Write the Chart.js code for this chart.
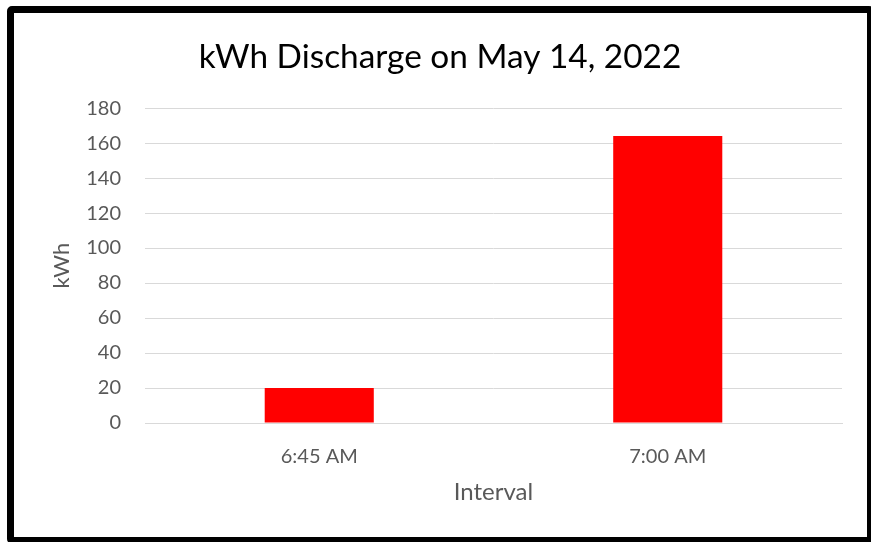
<!DOCTYPE html>
<html>
<head>
<meta charset="utf-8">
<script src="https://cdn.jsdelivr.net/npm/chart.js@4"></script>
<style>
  html, body { margin: 0; padding: 0; background: #fff; overflow: hidden; }
  #wrap { position: relative; width: 871px; height: 542px; }
  canvas { position: absolute; left: 0; top: 0; }
  #frame {
    position: absolute; left: 7px; top: 6px; width: 867px; height: 538px;
    box-sizing: border-box; border: 7px solid #000; border-radius: 5px;
    pointer-events: none;
  }
</style>
</head>
<body>
<div id="wrap">
  <canvas id="c" width="871" height="542"></canvas>
  <div id="frame"></div>
</div>
<script>
const categories = ["6:45 AM", "7:00 AM"];
const kwhValues = [20, 164];
const yTicks = [0, 20, 40, 60, 80, 100, 120, 140, 160, 180];

const FONT = "Lato, 'Open Sans', sans-serif";
const GRAY = "#595959";

new Chart(document.getElementById("c"), {
  type: "bar",
  data: {
    labels: categories,
    datasets: [{
      label: "kWh",
      data: kwhValues,
      backgroundColor: "#ff0000",
      borderWidth: 0,
      barPercentage: 0.313,
      categoryPercentage: 1.0
    }]
  },
  options: {
    responsive: false,
    devicePixelRatio: 1,
    animation: false,
    layout: { padding: { left: 38, right: 29, top: 0, bottom: 0 } },
    plugins: {
      legend: { display: false },
      tooltip: { enabled: false },
      title: {
        display: true,
        text: "kWh Discharge on May 14, 2022",
        color: "#000",
        font: { family: FONT, size: 33.4, weight: "normal", lineHeight: 1.2 },
        padding: { top: 37, bottom: 31 }
      }
    },
    scales: {
      x: {
        grid: { display: false, drawTicks: false },
        border: { display: true, color: "#d9d9d9", width: 1 },
        ticks: { color: GRAY, font: { family: FONT, size: 20, lineHeight: 1.2 }, padding: 22 },
        title: {
          display: true, text: "Interval", color: GRAY,
          font: { family: FONT, size: 24, lineHeight: 1.2 },
          padding: { top: 0, bottom: 35.6 }
        },
        afterFit: (s) => { s.height = 119; }
      },
      y: {
        min: 0, max: 180,
        afterBuildTicks: (s) => { s.ticks = yTicks.map(v => ({ value: v })); },
        grid: { color: "#d9d9d9", lineWidth: 1, drawTicks: false },
        border: { display: false },
        ticks: { color: GRAY, font: { family: FONT, size: 20, lineHeight: 1.2 }, padding: 24 },
        title: {
          display: true, text: "kWh", color: GRAY,
          font: { family: FONT, size: 22, lineHeight: 1.2 },
          padding: { top: 10.8, bottom: 0 }
        },
        afterFit: (s) => { s.width = 107; }
      }
    }
  }
});
</script>
</body>
</html>
